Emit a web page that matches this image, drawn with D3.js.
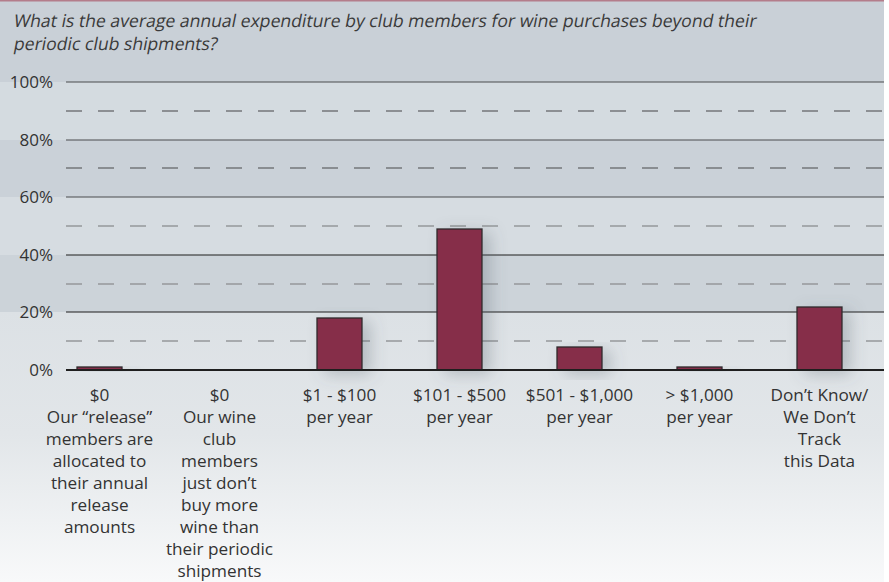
<!DOCTYPE html>
<html>
<head>
<meta charset="utf-8">
<script src="https://cdn.jsdelivr.net/npm/d3@7/dist/d3.min.js"></script>
<style>
  html, body { margin: 0; padding: 0; background: #ffffff; }
  svg { display: block; font-family: "Open Sans", "Noto Sans", sans-serif; }
</style>
</head>
<body>
<svg id="chart" width="889" height="582"></svg>
<script>
// Survey question and answer data
const titleLines = [
  "What is the average annual expenditure by club members for wine purchases beyond their",
  "periodic club shipments?"
];
const categories = ["$0 allocated", "$0 no extra", "$1 - $100", "$101 - $500", "$501 - $1,000", "> $1,000", "Don't Know"];
const categoryLabels = [
  ["$0", "Our \u201Crelease\u201D", "members are", "allocated to", "their annual", "release", "amounts"],
  ["$0", "Our wine", "club", "members", "just don\u2019t", "buy more", "wine than", "their periodic", "shipments"],
  ["$1 - $100", "per year"],
  ["$101 - $500", "per year"],
  ["$501 - $1,000", "per year"],
  ["> $1,000", "per year"],
  ["Don\u2019t Know/", "We Don\u2019t", "Track", "this Data"]
];
const values = [1, 0, 18, 49, 8, 1, 22];
const majorTicks = [0, 20, 40, 60, 80, 100];
const minorTicks = [10, 30, 50, 70, 90];

const W = 889, H = 582;
const panelRight = 884;
const gridLeft = 66;

const svg = d3.select("#chart");
const defs = svg.append("defs");

// Scales
const y = d3.scaleLinear().domain([0, 100]).range([370, 82]).interpolate(d3.interpolateRound);
const x = d3.scaleBand()
  .domain(categories)
  .range([39.5, 879.5])
  .paddingInner(0.625)
  .paddingOuter(0.3125);

// Background: lower fade toward white
const fade = defs.append("linearGradient")
  .attr("id", "fade").attr("x1", 0).attr("y1", 0).attr("x2", 0).attr("y2", 1);
fade.append("stop").attr("offset", 0).attr("stop-color", "#dce1e5");
fade.append("stop").attr("offset", 0.45).attr("stop-color", "#e2e6e9");
fade.append("stop").attr("offset", 1).attr("stop-color", "#f8f9fa");

svg.append("rect").attr("x", 0).attr("y", 0).attr("width", W).attr("height", H).attr("fill", "#ffffff");
svg.append("rect").attr("x", 0).attr("y", 0).attr("width", panelRight).attr("height", y(100))
  .attr("fill", "#c9d0d7");
svg.append("rect").attr("x", 0).attr("y", y(20)).attr("width", panelRight).attr("height", H - y(20))
  .attr("fill", "url(#fade)");

// Alternating horizontal bands between the major gridlines
const bandColors = ["#d4dbe0", "#cad1d8", "#d6dce1", "#ccd3d9"];
const bandEdges = [100, 80, 60, 40, 20];
svg.append("g").selectAll("rect")
  .data(d3.range(4))
  .join("rect")
  .attr("x", 0)
  .attr("y", i => y(bandEdges[i]))
  .attr("width", panelRight)
  .attr("height", i => y(bandEdges[i + 1]) - y(bandEdges[i]))
  .attr("fill", i => bandColors[i]);

// Thin accent rule along the top edge
svg.append("rect").attr("x", 0).attr("y", 0).attr("width", panelRight).attr("height", 1.5)
  .attr("fill", "#b47d8b");

// Title (upright face slanted to an oblique)
svg.append("g").selectAll("text")
  .data(titleLines)
  .join("text")
  .attr("transform", (d, i) => `translate(13,${27 + i * 23}) skewX(-11)`)
  .attr("font-size", 17.6)
  .attr("fill", "#3a3a3a")
  .text(d => d);

// Dashed minor gridlines
svg.append("g").selectAll("path")
  .data(minorTicks)
  .join("path")
  .attr("d", d => `M${gridLeft},${y(d)}H${panelRight}`)
  .attr("fill", "none")
  .attr("stroke", d => d > 60 ? "#74777a" : "#95989b")
  .attr("stroke-width", 1.6)
  .attr("stroke-dasharray", "16 16");

// Solid major gridlines
svg.append("g").selectAll("path")
  .data(majorTicks.filter(d => d > 0))
  .join("path")
  .attr("d", d => `M${gridLeft},${y(d)}H${panelRight}`)
  .attr("fill", "none")
  .attr("stroke", d => d > 40 ? "#4a4c4e" : "#1e1e1e")
  .attr("stroke-width", 1.2);

// Y axis labels
const yAxis = d3.axisLeft(y)
  .tickValues(majorTicks)
  .tickSize(0)
  .tickPadding(13)
  .tickFormat(d => d + "%");
const yAxisG = svg.append("g")
  .attr("transform", `translate(${gridLeft},0)`)
  .call(yAxis);
yAxisG.select(".domain").remove();
yAxisG.selectAll("text")
  .attr("font-family", "'Open Sans', 'Noto Sans', sans-serif")
  .attr("font-size", 17)
  .attr("fill", "#333333");

// Soft shadow beneath bars
const shadow = defs.append("filter").attr("id", "barShadow")
  .attr("x", "-60%").attr("y", "-20%").attr("width", "240%").attr("height", "160%");
shadow.append("feDropShadow")
  .attr("dx", 8).attr("dy", 4).attr("stdDeviation", 8)
  .attr("flood-color", "#55606b").attr("flood-opacity", 0.3);

// Bars
svg.append("g").selectAll("rect")
  .data(values)
  .join("rect")
  .attr("x", (d, i) => x(categories[i]))
  .attr("y", d => y(d))
  .attr("width", x.bandwidth())
  .attr("height", d => y(0) - y(d))
  .attr("fill", "#862f49")
  .attr("stroke", "#2e2a2c")
  .attr("stroke-width", 1.3)
  .attr("filter", "url(#barShadow)");

// Baseline
svg.append("path")
  .attr("d", `M${gridLeft},${y(0)}H${panelRight}`)
  .attr("stroke", "#1f1f1f")
  .attr("stroke-width", 2.2);

// Category labels (multi-line)
const labelG = svg.append("g")
  .attr("font-size", 17.2)
  .attr("fill", "#333333")
  .attr("text-anchor", "middle");
categories.forEach((c, i) => {
  const cx = x(c) + x.bandwidth() / 2;
  const t = labelG.append("text").attr("x", cx).attr("y", 400.5);
  t.selectAll("tspan")
    .data(categoryLabels[i])
    .join("tspan")
    .attr("x", cx)
    .attr("dy", (d, j) => j === 0 ? 0 : 22)
    .text(d => d);
});
</script>
</body>
</html>
